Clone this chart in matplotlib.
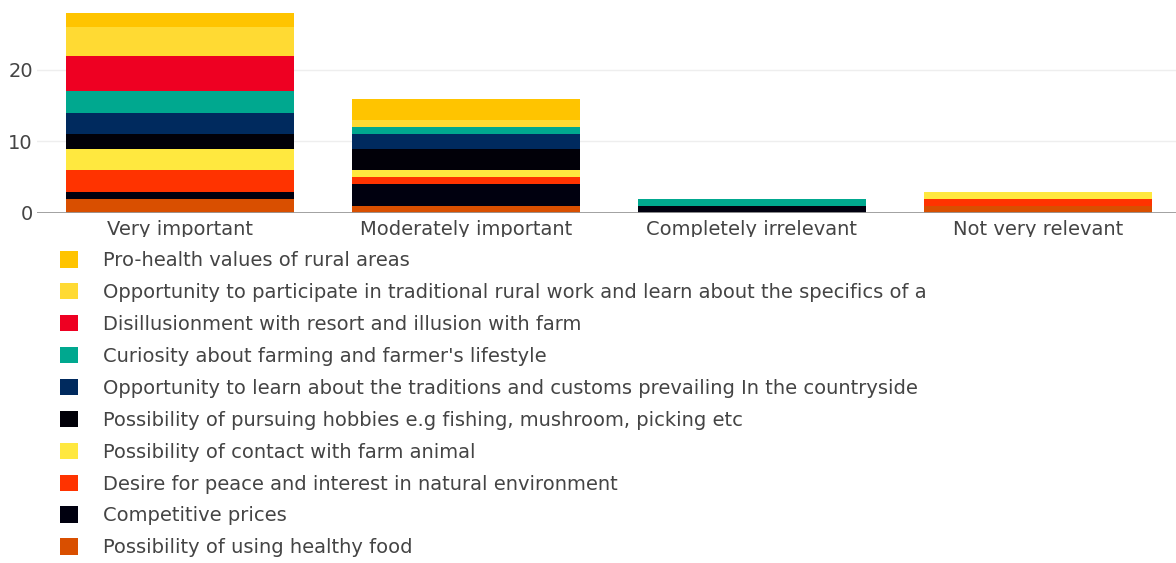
import numpy as np
import matplotlib
matplotlib.use("Agg")
import matplotlib.pyplot as plt
from matplotlib.patches import Patch, Rectangle
from matplotlib.transforms import Bbox, TransformedBbox

categories = ["Very important", "Moderately important", "Completely irrelevant", "Not very relevant"]

# series listed bottom of stack first
series_names = [
  "Possibility of using healthy food",
  "Competitive prices",
  "Desire for peace and interest in natural environment",
  "Possibility of contact with farm animal",
  "Possibility of pursuing hobbies e.g fishing, mushroom, picking etc",
  "Opportunity to learn about the traditions and customs prevailing In the countryside",
  "Curiosity about farming and farmer's lifestyle",
  "Disillusionment with resort and illusion with farm",
  "Opportunity to participate in traditional rural work and learn about the specifics of agritourism",
  "Pro-health values of rural areas",
]

healthy_food   = [2, 1, 0, 1]
competitive    = [1, 3, 1, 0]
peace_nature   = [3, 1, 0, 1]
farm_animal    = [3, 1, 0, 1]
hobbies        = [2, 3, 0, 0]
traditions     = [3, 2, 0, 0]
curiosity      = [3, 1, 1, 0]
disillusion    = [5, 0, 0, 0]
rural_work     = [4, 1, 0, 0]
pro_health     = [2, 3, 0, 0]

series_values = [healthy_food, competitive, peace_nature, farm_animal, hobbies,
                 traditions, curiosity, disillusion, rural_work, pro_health]

colors = ["#D94F00", "#00000F", "#FF3300", "#FFE83F", "#010008",
          "#002A5E", "#00A88F", "#EE0022", "#FFDA33", "#FFC400"]

W, H = 1176, 563
fs = 14
fig = plt.figure(figsize=(W / 100, H / 100), dpi=100)
ax = fig.add_axes([37 / W, 1 - 213 / H, (W - 37) / W, 211 / H])

x = np.arange(len(categories))
bottom = np.zeros(len(categories))
for name, vals, col in zip(series_names, series_values, colors):
  vals = np.array(vals, dtype=float)
  ax.bar(x, vals, bottom=bottom, width=0.8, color=col, linewidth=0, zorder=2)
  bottom += vals

ax.set_xlim(-0.5, (W - 180) / 286)
ax.set_ylim(0, 29.5)
ax.set_yticks([0, 10, 20])
ax.set_xticks(x)
ax.set_xticklabels(categories)
ax.tick_params(axis="both", length=0, labelsize=fs, labelcolor="#444444")
ax.tick_params(axis="y", pad=3)
ax.tick_params(axis="x", pad=5)
for s in ax.spines.values():
  s.set_visible(False)
ax.grid(axis="y", color="#EEEEEE", lw=1, zorder=0)
ax.axhline(0, color="#999999", lw=2, zorder=3)
ax.set_axisbelow(True)

# category labels are cut off at the bottom in the original
fig.patches.append(Rectangle((0, 1 - 246 / H), 1, 9 / H, transform=fig.transFigure,
                             facecolor="white", edgecolor="none", zorder=5))

handles = [Patch(facecolor=c, edgecolor="none") for c in colors][::-1]
labels = series_names[::-1]
leg = fig.legend(handles, labels, loc="upper left", bbox_to_anchor=(60 / W, 1 - 251 / H),
                 frameon=False, fontsize=fs, handlelength=0.93, handleheight=0.93,
                 handletextpad=1.3, labelspacing=0.665, borderpad=0, borderaxespad=0)
clip = TransformedBbox(Bbox([[0, 0], [925 / W, 1]]), fig.transFigure)
for t in leg.get_texts():
  t.set_color("#444444")
  t.set_clip_box(clip)
  t.set_clip_on(True)

fig.savefig("out.png", dpi=100)
